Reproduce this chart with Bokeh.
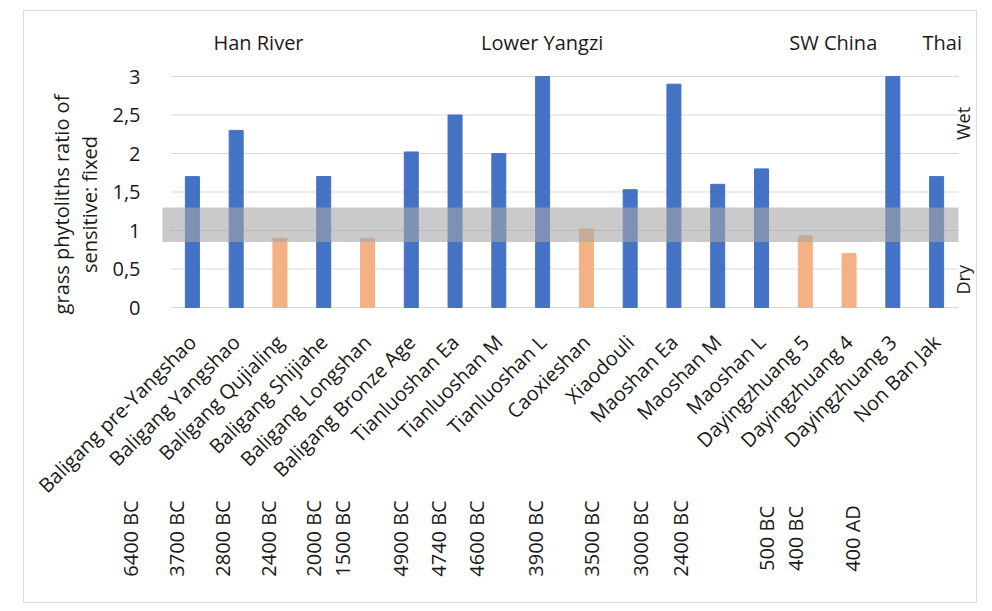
from math import pi

from bokeh.core.properties import value
from bokeh.embed import file_html
from bokeh.layouts import column, row
from bokeh.models import (BoxAnnotation, ColumnDataSource, CustomJSTickFormatter,
                          FixedTicker, Label, LabelSet, LinearAxis, Range1d, Spacer)
from bokeh.plotting import figure
from bokeh.resources import INLINE

# ---------------- data ----------------
sites = ["Baligang pre-Yangshao", "Baligang Yangshao", "Baligang Qujialing",
         "Baligang Shijiahe", "Baligang Longshan", "Baligang Bronze Age",
         "Tianluoshan Ea", "Tianluoshan M", "Tianluoshan L", "Caoxieshan",
         "Xiaodouli", "Maoshan Ea", "Maoshan M", "Maoshan L",
         "Dayingzhuang 5", "Dayingzhuang 4", "Dayingzhuang 3", "Non Ban Jak"]
ratio = [1.7, 2.3, 0.9, 1.7, 0.9, 2.02, 2.5, 2.0, 3.0, 1.02,
         1.53, 2.9, 1.6, 1.8, 0.93, 0.7, 3.0, 1.7]
signal = ["wet", "wet", "dry", "wet", "dry", "wet", "wet", "wet", "wet", "dry",
          "wet", "wet", "wet", "wet", "dry", "dry", "wet", "wet"]
y_ticks = [0, 0.5, 1, 1.5, 2, 2.5, 3]
band_low, band_high = 0.85, 1.3

regions = ["Han River", "Lower Yangzi", "SW China", "Thai"]
region_pos = [1.51, 7.99, 14.64, 17.13]          # placement along the category axis

dates = ["6400 BC", "3700 BC", "2800 BC", "2400 BC", "2000 BC", "1500 BC",
         "4900 BC", "4740 BC", "4600 BC", "3900 BC", "3500 BC", "3000 BC",
         "2400 BC", "500 BC", "400 BC", "400 AD"]
date_pos = [-1.42, -0.37, 0.69, 1.74, 2.76, 3.43, 4.75, 5.62, 6.49, 7.83,
            9.11, 10.23, 11.15, 13.11, 13.77, 15.08]  # placement along the category axis

# ---------------- layout constants (pixels inside the chart area) ----------------
FONT = "Open Sans"
TXT = "#1a1a1a"
colour_of = {"wet": "#4472c4", "dry": "#f4b183"}
n = len(sites)

W, H = 954, 593              # chart area
PLOT_L, PLOT_R = 147, 935    # category band
ZERO_Y, TOP_Y = 297, 66      # screen rows of value 0 and value 3
UNIT = (PLOT_R - PLOT_L) / n
VUNIT = (ZERO_Y - TOP_Y) / 3.0

x_range = Range1d(-0.5 - PLOT_L / UNIT, n - 0.5 + (W - PLOT_R) / UNIT)
y_range = Range1d(-(H - ZERO_Y) / VUNIT, ZERO_Y / VUNIT)

p = figure(width=W, height=H, x_range=x_range, y_range=y_range,
           x_axis_type=None, y_axis_type=None,
           output_backend="svg", toolbar_location=None, min_border=0)
p.grid.visible = False
p.outline_line_color = "#d9d9d9"
p.background_fill_color = "white"
p.border_fill_color = "white"

# horizontal gridlines over the category band
p.segment(x0=-0.5, x1=n - 0.5, y0=y_ticks, y1=y_ticks, line_color="#d9d9d9", line_width=1)

src = ColumnDataSource(dict(x=list(range(n)), ratio=ratio,
                            color=[colour_of[s] for s in signal]))
p.vbar(x="x", top="ratio", width=0.32, color="color", source=src)

# band of "neutral" values
p.add_layout(BoxAnnotation(bottom=band_low, top=band_high,
                           left=-0.5 - 8 / UNIT, right=n - 0.5,
                           fill_color="#a6a6a6", fill_alpha=0.6, line_color=None))

# y axis (pinned to the left end of the category band)
ya = LinearAxis(fixed_location=-0.5, bounds=(-0.33, 3))
ya.ticker = FixedTicker(ticks=y_ticks)
ya.formatter = CustomJSTickFormatter(code="return String(tick).replace('.', ',');")
ya.axis_line_color = None
ya.major_tick_line_color = None
ya.minor_tick_line_color = None
ya.major_label_standoff = 24
ya.major_label_text_font = FONT
ya.major_label_text_font_size = "20px"
ya.major_label_text_color = TXT
ya.axis_label = "grass phytoliths ratio of\nsensitive: fixed"
ya.axis_label_text_font = FONT
ya.axis_label_text_font_size = "20px"
ya.axis_label_text_font_style = "normal"
ya.axis_label_text_line_height = 1.05
ya.axis_label_text_color = TXT
ya.axis_label_standoff = 6
p.add_layout(ya, "left")

# x axis (pinned to value 0)
xa = LinearAxis(fixed_location=0, bounds=(-0.5, n - 0.5))
xa.ticker = FixedTicker(ticks=list(range(n)))
xa.formatter = CustomJSTickFormatter(args=dict(names=sites),
                                     code="return names[Math.round(tick)] || '';")
xa.major_label_orientation = pi / 4
xa.axis_line_color = None
xa.major_tick_line_color = None
xa.minor_tick_line_color = None
xa.major_label_standoff = 25
xa.major_label_text_font = FONT
xa.major_label_text_font_size = "20px"
xa.major_label_text_color = TXT
p.add_layout(xa, "below")

# region names above
p.add_layout(LabelSet(
    x="x", y="y", text="text",
    source=ColumnDataSource(dict(x=region_pos, y=[3.44] * len(regions), text=regions)),
    text_align="center", text_baseline="middle",
    text_font=value(FONT), text_font_size=value("20px"), text_color=TXT))

# dates beneath
p.add_layout(LabelSet(
    x="x", y="y", text="text",
    source=ColumnDataSource(dict(x=date_pos, y=[-3.0] * len(dates), text=dates)),
    angle=pi / 2, text_align="center", text_baseline="middle",
    text_font=value(FONT), text_font_size=value("20px"), text_color=TXT))

# wet / dry side notes
for txt, yv in (("Wet", 2.39), ("Dry", 0.36)):
    p.add_layout(Label(x=17.61, y=yv, text=txt, angle=pi / 2,
                       text_align="center", text_baseline="middle",
                       text_font=FONT, text_font_size="18px", text_color=TXT))

layout = column(Spacer(height=10), row(Spacer(width=23), p))

open("out.html", "w").write(file_html(layout, INLINE))
